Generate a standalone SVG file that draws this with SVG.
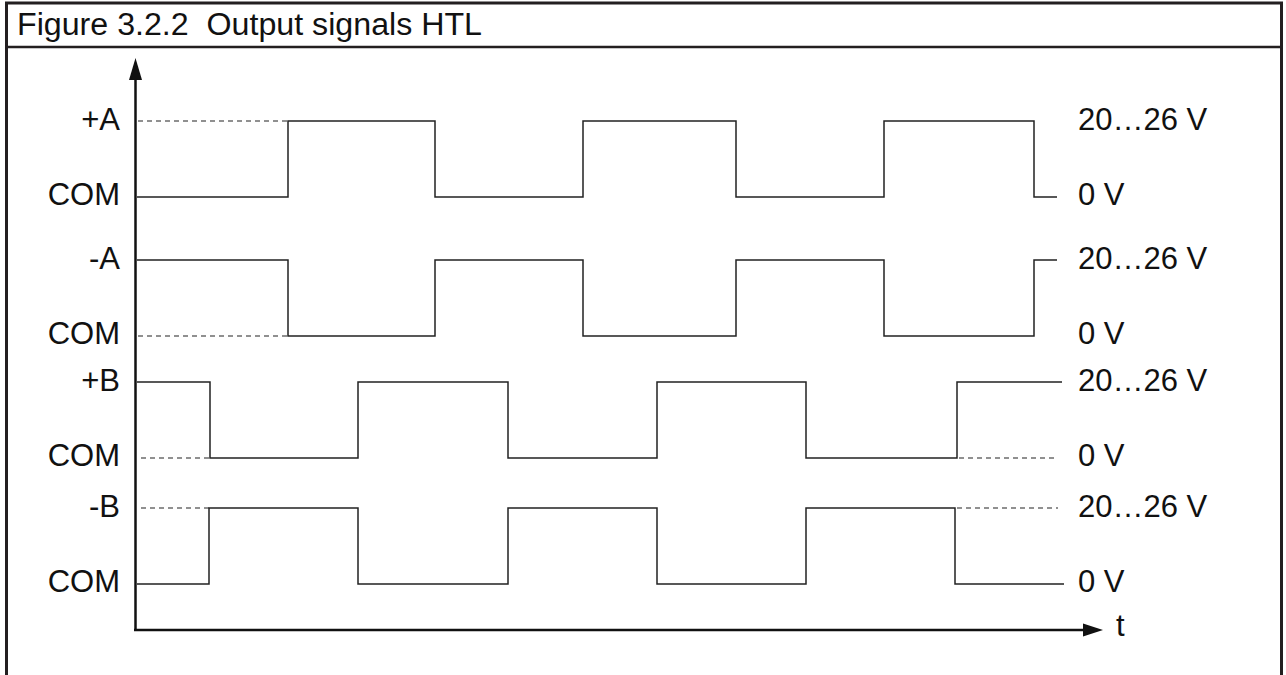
<svg xmlns="http://www.w3.org/2000/svg" width="1286" height="675" viewBox="0 0 1286 675">
<style>
.lbl{font-family:"Liberation Sans",Arial,sans-serif;font-size:31px;fill:#111}
.l{text-anchor:end}
.sig{fill:none;stroke:#222;stroke-width:1.5}
.dash{fill:none;stroke:#222;stroke-width:1.2;stroke-dasharray:5 4}
.ax{fill:none;stroke:#111;stroke-width:2.5}
</style>
<rect width="1286" height="675" fill="#fff"/>
<g id="frame">
<path d="M6.5 690 V3 H1281.5 V690" fill="none" stroke="#231f20" stroke-width="3"/>
<line x1="5" y1="47" x2="1283" y2="47" stroke="#231f20" stroke-width="2.5"/>
<text class="lbl" x="17" y="35" font-size="30" textLength="465" lengthAdjust="spacingAndGlyphs" xml:space="preserve" style="white-space:pre">Figure 3.2.2  Output signals HTL</text>
</g>
<g id="axes">
<line class="ax" x1="135.5" y1="74" x2="135.5" y2="630"/>
<polygon points="135.5,58 129,80 142,80" fill="#111"/>
<line class="ax" x1="134" y1="630" x2="1090" y2="630"/>
<polygon points="1103,630 1083,623.5 1083,636.5" fill="#111"/>
<text class="lbl" x="1116" y="636">t</text>
</g>
<g id="labels-left">
<text class="lbl l" x="120" y="130">+A</text>
<text class="lbl l" x="120" y="205">COM</text>
<text class="lbl l" x="120" y="269">-A</text>
<text class="lbl l" x="120" y="344">COM</text>
<text class="lbl l" x="120" y="391">+B</text>
<text class="lbl l" x="120" y="466">COM</text>
<text class="lbl l" x="120" y="517">-B</text>
<text class="lbl l" x="120" y="592">COM</text>
</g>
<g id="labels-right">
<text class="lbl" x="1078" y="130">20…26 V</text>
<text class="lbl" x="1078" y="205">0 V</text>
<text class="lbl" x="1078" y="269">20…26 V</text>
<text class="lbl" x="1078" y="344">0 V</text>
<text class="lbl" x="1078" y="391">20…26 V</text>
<text class="lbl" x="1078" y="466">0 V</text>
<text class="lbl" x="1078" y="517">20…26 V</text>
<text class="lbl" x="1078" y="592">0 V</text>
</g>
<g id="signals">
<path id="sigPA" class="sig" d="M137 197 H288 V121 H435 V197 H583 V121 H736 V197 H884 V121 H1034 V197 H1057"/>
<path id="sigNA" class="sig" d="M137 260 H288 V336 H435 V260 H583 V336 H736 V260 H884 V336 H1034 V260 H1057"/>
<path id="sigPB" class="sig" d="M137 382 H210 V458 H358 V382 H508 V458 H657 V382 H806 V458 H957 V382 H1062"/>
<path id="sigNB" class="sig" d="M137 584 H209 V508 H358 V584 H508 V508 H657 V584 H806 V508 H955 V584 H1064"/>
</g>
<g id="dashes">
<line class="dash" x1="138" y1="121" x2="288" y2="121"/>
<line class="dash" x1="138" y1="336" x2="288" y2="336"/>
<line class="dash" x1="141" y1="458" x2="210" y2="458"/>
<line class="dash" x1="141" y1="508" x2="209" y2="508"/>
<line class="dash" x1="959" y1="458" x2="1058" y2="458"/>
<line class="dash" x1="957" y1="508" x2="1058" y2="508"/>
</g>
</svg>
